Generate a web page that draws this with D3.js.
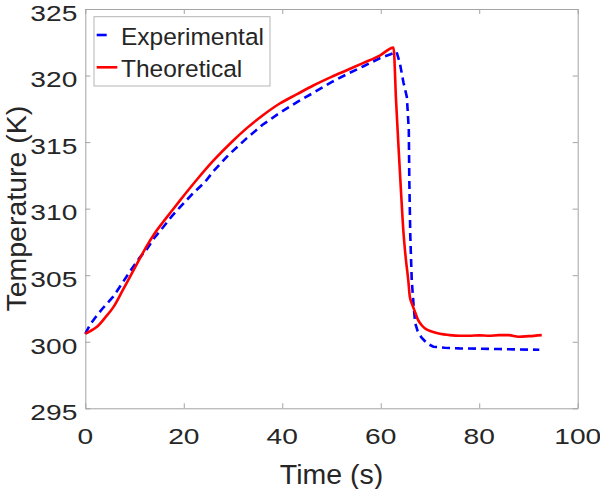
<!DOCTYPE html>
<html><head><meta charset="utf-8">
<script src="https://cdn.jsdelivr.net/npm/d3@7"></script>
<style>body{margin:0;background:#fff}svg{display:block}text{font-family:"Liberation Sans",Arial,sans-serif;fill:#262626}</style>
</head><body>
<script>
// ---- data ----
const expTime = [0, 1, 2, 3.5, 5.7, 7.5, 9.1, 11, 12.5, 14, 15.8, 17.5, 19.2, 22, 24.3, 26, 29, 32.8, 36, 39.5, 43, 46.3, 50, 53.1, 56.5, 59.8, 62, 63.2, 63.9, 64.6, 65.3, 65.7, 65.8, 66.0, 66.3, 66.7, 67.0, 67.5, 68.3, 69.5, 70.7, 73, 76, 80, 84, 88, 92.2];
const expTemp = [300.6, 301.3, 301.8, 302.5, 303.4, 304.4, 305.3, 306.3, 306.95, 307.8, 308.6, 309.4, 310.1, 311.2, 312.0, 312.8, 314.0, 315.3, 316.3, 317.2, 318.0, 318.7, 319.5, 320.1, 320.7, 321.3, 321.6, 321.8, 320.9, 319.5, 318.4, 315.9, 312.2, 308.0, 304.6, 302.6, 301.4, 300.8, 300.3, 299.85, 299.63, 299.55, 299.5, 299.48, 299.45, 299.42, 299.4];
const theoTime = [0, 1, 2.3, 4, 5.7, 7.5, 9.1, 11, 12.5, 14, 15.8, 17.5, 19.2, 22.6, 26, 30, 32.8, 36, 39.5, 43, 46.3, 50, 53.1, 56.5, 59.8, 62.6, 63.1, 63.6, 64.1, 64.6, 65.1, 65.6, 65.9, 66.4, 67.0, 67.5, 68.2, 69.0, 70.5, 72, 74, 76, 78, 80, 82, 84, 86, 88, 90, 92.7];
const theoTemp = [300.6, 300.8, 301.1, 301.8, 302.6, 303.8, 304.9, 306.2, 307.2, 308.1, 309.0, 309.8, 310.6, 312.15, 313.6, 315.1, 316.05, 317.0, 317.9, 318.6, 319.25, 319.9, 320.4, 320.95, 321.5, 322.1, 318.2, 314.7, 311.4, 308.3, 306.2, 304.6, 303.4, 302.8, 302.2, 301.7, 301.3, 301.0, 300.75, 300.6, 300.5, 300.45, 300.45, 300.48, 300.45, 300.5, 300.5, 300.38, 300.42, 300.5];
const xTicks = [0, 20, 40, 60, 80, 100];
const yTicks = [295, 300, 305, 310, 315, 320, 325];
const seriesNames = ["Experimental", "Theoretical"];
const xLabel = "Time (s)";
const yLabel = "Temperature (K)";

const W = 600, H = 489;
const L = 85.3, R = 577.7, T = 9, B = 408.3;
const svg = d3.select("body").append("svg").attr("width", W).attr("height", H);
const x = d3.scaleLinear().domain([0, 100]).range([L, R]);
const y = d3.scaleLinear().domain([295, 325]).range([B, T]);

const axisCol = "#a3a3a3";
const gx = svg.append("g").attr("transform", `translate(0,${B})`)
  .call(d3.axisBottom(x).tickValues(xTicks).tickSizeInner(-5).tickSizeOuter(0).tickFormat(""));
const gxt = svg.append("g").attr("transform", `translate(0,${T})`)
  .call(d3.axisTop(x).tickValues(xTicks).tickSizeInner(-5).tickSizeOuter(0).tickFormat(""));
const gy = svg.append("g").attr("transform", `translate(${L},0)`)
  .call(d3.axisLeft(y).tickValues(yTicks).tickSizeInner(-5).tickSizeOuter(0).tickFormat(""));
const gyr = svg.append("g").attr("transform", `translate(${R},0)`)
  .call(d3.axisRight(y).tickValues(yTicks).tickSizeInner(-5).tickSizeOuter(0).tickFormat(""));
[gx, gxt, gy, gyr].forEach(g => {
  g.selectAll("path.domain").attr("stroke", axisCol).attr("stroke-width", 1);
  g.selectAll(".tick line").attr("stroke", axisCol).attr("stroke-width", 1);
});

const sx = 1.28;
svg.append("g").selectAll("text").data(yTicks).join("text")
  .attr("transform", d => `translate(77.3,${y(d) + 11.8}) scale(${sx},1)`)
  .attr("text-anchor", "end").attr("font-size", 22).text(d => d);
svg.append("g").selectAll("text").data(xTicks).join("text")
  .attr("transform", d => `translate(${x(d)},444) scale(${sx},1)`)
  .attr("text-anchor", "middle").attr("font-size", 22).text(d => d);

svg.append("text").attr("x", (L + R) / 2).attr("y", 484).attr("text-anchor", "middle")
  .attr("font-size", 28.5).text(xLabel);
svg.append("text").attr("transform", `translate(25.5,${(T + B) / 2}) rotate(-90)`)
  .attr("text-anchor", "middle").attr("font-size", 28.5).text(yLabel);

const expData = expTime.map((t, i) => [t, expTemp[i]]);
const theoData = theoTime.map((t, i) => [t, theoTemp[i]]);
const lineLin = d3.line().x(d => x(d[0])).y(d => y(d[1]));
const lineSmooth = d3.line().x(d => x(d[0])).y(d => y(d[1])).curve(d3.curveMonotoneX);
svg.append("path").datum(expData).attr("d", lineLin).attr("fill", "none")
  .attr("stroke", "#0000ff").attr("stroke-width", 2.6).attr("stroke-dasharray", "8,5");
svg.append("path").datum(theoData).attr("d", lineSmooth).attr("fill", "none")
  .attr("stroke", "#ff0000").attr("stroke-width", 2.6).attr("stroke-linejoin", "round");

const lg = svg.append("g");
lg.append("rect").attr("x", 94).attr("y", 16.7).attr("width", 176).attr("height", 69.3)
  .attr("fill", "#fff").attr("stroke", "#b5b5b5").attr("stroke-width", 1);
lg.append("line").attr("x1", 96.7).attr("x2", 117.3).attr("y1", 35).attr("y2", 35)
  .attr("stroke", "#0000ff").attr("stroke-width", 2.6).attr("stroke-dasharray", "10,12");
lg.append("line").attr("x1", 96.7).attr("x2", 117.3).attr("y1", 67.3).attr("y2", 67.3)
  .attr("stroke", "#ff0000").attr("stroke-width", 2.6);
lg.append("text").attr("x", 121).attr("y", 45).attr("font-size", 24.5).text(seriesNames[0]);
lg.append("text").attr("x", 121).attr("y", 77).attr("font-size", 24.5).text(seriesNames[1]);
</script>
</body></html>
